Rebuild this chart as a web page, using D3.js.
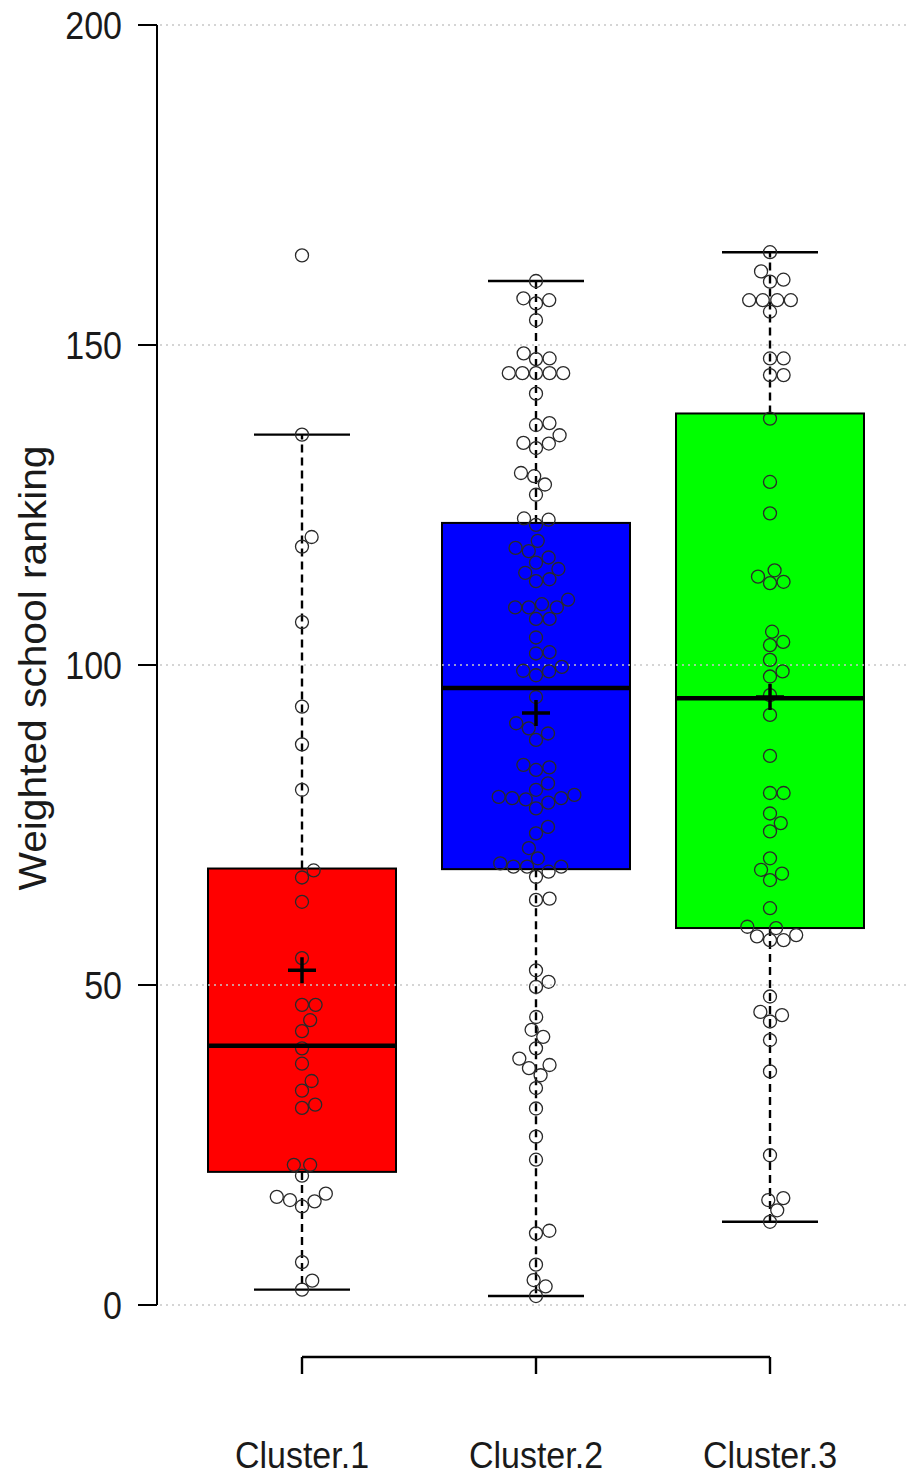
<!DOCTYPE html>
<html>
<head>
<meta charset="utf-8">
<script src="https://cdn.jsdelivr.net/npm/d3@7"></script>
<style>
  body { margin: 0; background: #fff; }
  svg { display: block; }
  text { font-family: "Liberation Sans", Arial, sans-serif; fill: #1a1a1a; }
</style>
</head>
<body>
<div id="viz-container"></div>
<script>
// clusters and their box colours
const clusters = ["Cluster.1", "Cluster.2", "Cluster.3"];
const boxColors = ["#ff0000", "#0000ff", "#00ff00"];

// box statistics
const q1s      = [20.8, 68.1, 58.9];
const medians  = [40.5, 96.4, 94.8];
const q3s      = [68.2, 122.2, 139.3];
const whiskLo  = [2.4, 1.4, 13.0];
const whiskHi  = [136.0, 160.0, 164.5];
const means    = [52.3, 92.5, 95.0];

// individual observations (beeswarm points)
const pts1 = [164.0, 136.0, 120.0, 118.5, 106.7, 93.5, 87.6, 80.5, 67.9, 66.8, 63.0, 54.2,
  46.9, 46.9, 44.5, 42.8, 40.1, 37.7, 35.0, 33.5, 31.3, 30.8, 21.9, 21.9, 20.2,
  17.4, 16.9, 16.4, 16.2, 15.4, 6.7, 3.8, 2.4];
const pts2 = [160.0, 157.3, 157.0, 156.5, 153.9, 148.7, 147.9, 147.8, 145.6, 145.6, 145.6, 145.6, 145.6,
  142.4, 137.8, 137.5, 135.9, 134.7, 134.6, 133.9, 130.0, 129.5, 128.2, 126.6,
  122.9, 122.7, 121.9, 119.4, 118.3, 117.8, 116.8, 116.0, 115.0, 114.4, 113.4, 113.1,
  110.2, 109.5, 109.0, 109.0, 109.0, 107.2, 107.2, 104.3, 102.0, 101.8,
  99.7, 99.1, 99.0, 98.4, 95.0, 90.9, 90.1, 89.3, 88.3, 84.4, 84.0, 83.6, 81.5,
  80.5, 79.7, 79.4, 79.2, 79.2, 79.0, 78.5, 77.6, 74.7, 73.7, 71.4, 69.8,
  69.0, 68.5, 68.5, 68.5, 67.7, 66.9, 63.5, 63.3, 52.3, 50.5, 49.7,
  45.0, 43.0, 41.9, 40.1, 38.5, 37.5, 37.0, 35.9, 33.9, 30.7, 26.3, 22.7,
  11.6, 11.2, 6.3, 3.9, 2.9, 1.4];
const pts3 = [164.5, 161.5, 160.2, 159.9, 157.0, 157.0, 157.0, 157.0, 155.2, 147.9, 147.9,
  145.3, 145.3, 138.5, 128.6, 123.7, 114.8, 113.8, 113.0, 112.8, 105.2, 103.6, 103.1,
  100.8, 99.0, 98.2, 95.3, 92.2, 85.8, 80.0, 80.0, 76.8, 75.3, 74.0, 69.8, 68.0, 67.4,
  66.4, 62.0, 59.1, 58.9, 57.8, 57.6, 57.0, 57.0, 48.2, 45.8, 45.3, 44.3, 41.4, 36.5,
  23.4, 16.7, 16.4, 14.8, 13.0];
const points = [pts1, pts2, pts3];

const yTicks = [0, 50, 100, 150, 200];

const W = 908, H = 1479;
const svg = d3.select("#viz-container").append("svg")
  .attr("width", W).attr("height", H);

const y = d3.scaleLinear().domain([0, 200]).range([1305, 25]);
const x = d3.scalePoint().domain(clusters).range([302, 770]);
const boxW = 188;
const capW = 96;
const rPt = 6.5;

// boxes first, grid lines sit on top of them (as in the original)
const boxes = svg.append("g");
clusters.forEach((c, i) => {
  boxes.append("rect")
    .attr("x", x(c) - boxW / 2)
    .attr("y", y(q3s[i]))
    .attr("width", boxW)
    .attr("height", y(q1s[i]) - y(q3s[i]))
    .attr("fill", boxColors[i])
    .attr("stroke", "#000")
    .attr("stroke-width", 2);
});

// dotted grid
svg.append("g").selectAll("line")
  .data(yTicks)
  .enter().append("line")
  .attr("x1", 160).attr("x2", W)
  .attr("y1", d => y(d)).attr("y2", d => y(d))
  .attr("stroke", "#c8c8c8")
  .attr("stroke-width", 1.6)
  .attr("stroke-dasharray", "2,4");

// beeswarm offsets (swarm method, ascending priority)
function swarm(vals) {
  const d = 13.6;
  const order = vals.map((v, i) => i).sort((a, b) => vals[a] - vals[b]);
  const placed = [];
  const out = [];
  order.forEach(i => {
    const py = y(vals[i]);
    const near = placed.filter(p => Math.abs(p.y - py) < d);
    let cands = [0];
    near.forEach(p => {
      const dx = Math.sqrt(d * d - (p.y - py) ** 2);
      cands.push(p.x + dx, p.x - dx);
    });
    cands = cands.filter(cx => near.every(p => (p.x - cx) ** 2 + (p.y - py) ** 2 >= d * d - 0.01));
    const best = cands.reduce((a, b) => Math.abs(b) < Math.abs(a) - 1e-9 ? b : a);
    placed.push({ x: best, y: py });
    out.push({ v: vals[i], dx: best });
  });
  return out;
}

// whiskers
const wg = svg.append("g");
clusters.forEach((c, i) => {
  wg.append("line")
    .attr("x1", x(c)).attr("x2", x(c))
    .attr("y1", y(q3s[i])).attr("y2", y(whiskHi[i]))
    .attr("stroke", "#000").attr("stroke-width", 2.4)
    .attr("stroke-dasharray", "8,5");
  wg.append("line")
    .attr("x1", x(c)).attr("x2", x(c))
    .attr("y1", y(q1s[i])).attr("y2", y(whiskLo[i]))
    .attr("stroke", "#000").attr("stroke-width", 2.4)
    .attr("stroke-dasharray", "8,5");
  [whiskLo[i], whiskHi[i]].forEach(v => {
    wg.append("line")
      .attr("x1", x(c) - capW / 2).attr("x2", x(c) + capW / 2)
      .attr("y1", y(v)).attr("y2", y(v))
      .attr("stroke", "#000").attr("stroke-width", 2.4);
  });
});

// points
clusters.forEach((c, i) => {
  svg.append("g").selectAll("circle")
    .data(swarm(points[i]))
    .enter().append("circle")
    .attr("cx", d => x(c) + d.dx)
    .attr("cy", d => y(d.v))
    .attr("r", rPt)
    .attr("fill", "none")
    .attr("stroke", "#2a2a2a")
    .attr("stroke-width", 1.3);
});

// medians and means
clusters.forEach((c, i) => {
  svg.append("line")
    .attr("x1", x(c) - boxW / 2).attr("x2", x(c) + boxW / 2)
    .attr("y1", y(medians[i])).attr("y2", y(medians[i]))
    .attr("stroke", "#000").attr("stroke-width", 4.5);
  svg.append("path")
    .attr("d", `M${x(c) - 14},${y(means[i])}H${x(c) + 14}M${x(c)},${y(means[i]) - 13}V${y(means[i]) + 13}`)
    .attr("stroke", "#000").attr("stroke-width", 3.5);
});

// y axis
const yAxis = svg.append("g");
yAxis.append("line")
  .attr("x1", 157).attr("x2", 157)
  .attr("y1", y(200)).attr("y2", y(0))
  .attr("stroke", "#000").attr("stroke-width", 2);
yAxis.selectAll("line.tick")
  .data(yTicks)
  .enter().append("line")
  .attr("class", "tick")
  .attr("x1", 138).attr("x2", 157)
  .attr("y1", d => y(d)).attr("y2", d => y(d))
  .attr("stroke", "#000").attr("stroke-width", 2);
yAxis.selectAll("text")
  .data(yTicks)
  .enter().append("text")
  .attr("transform", d => `translate(122,${y(d)}) scale(1,1.15)`)
  .attr("text-anchor", "end")
  .attr("dy", "0.35em")
  .attr("font-size", "34px")
  .text(d => d);

// y label
svg.append("text")
  .attr("transform", "translate(46,668) rotate(-90)")
  .attr("text-anchor", "middle")
  .attr("font-size", "38px")
  .attr("textLength", 445)
  .attr("lengthAdjust", "spacingAndGlyphs")
  .text("Weighted school ranking");

// x axis bracket
const xb = svg.append("g");
xb.append("line")
  .attr("x1", x(clusters[0])).attr("x2", x(clusters[2]))
  .attr("y1", 1357).attr("y2", 1357)
  .attr("stroke", "#000").attr("stroke-width", 2.4);
xb.selectAll("line.tick")
  .data(clusters)
  .enter().append("line")
  .attr("class", "tick")
  .attr("x1", d => x(d)).attr("x2", d => x(d))
  .attr("y1", 1357).attr("y2", 1374)
  .attr("stroke", "#000").attr("stroke-width", 2.4);
xb.selectAll("text")
  .data(clusters)
  .enter().append("text")
  .attr("transform", d => `translate(${x(d)},1468) scale(1,1.1)`)
  .attr("text-anchor", "middle")
  .attr("font-size", "34px")
  .text(d => d);
</script>
</body>
</html>
